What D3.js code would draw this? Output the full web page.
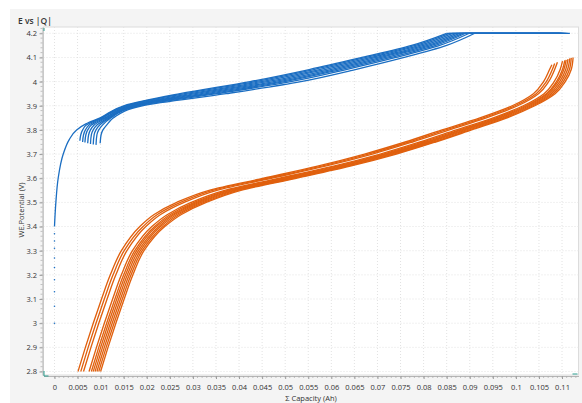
<!DOCTYPE html>
<html>
<head>
<meta charset="utf-8">
<script src="https://cdn.jsdelivr.net/npm/d3@7"></script>
<style>
  body { margin: 0; background: #fff; }
  .chart text { font-family: "Open Sans", "Noto Sans", sans-serif; fill: #333; }
</style>
</head>
<body>
<div class="chart"></div>
<script>
// tick values
const xTicks = [0, 0.005, 0.01, 0.015, 0.02, 0.025, 0.03, 0.035, 0.04, 0.045, 0.05, 0.055,
  0.06, 0.065, 0.07, 0.075, 0.08, 0.085, 0.09, 0.095, 0.1, 0.105, 0.11];
const yTicks = [2.8, 2.9, 3, 3.1, 3.2, 3.3, 3.4, 3.5, 3.6, 3.7, 3.8, 3.9, 4, 4.1, 4.2];

// first charge: sparse points at Q = 0, then the line
const firstDotsV = [3.0, 3.07, 3.13, 3.18, 3.23, 3.27, 3.31, 3.34, 3.37];
const firstChargeV = [3.4, 3.5, 3.6, 3.7, 3.76, 3.8, 3.825, 3.85, 3.9, 3.95, 4.0, 4.05, 4.1, 4.15, 4.2];
const firstChargeQ = [0, 0.0003, 0.0008, 0.0019, 0.0032, 0.0048, 0.0068, 0.0099, 0.0150, 0.0272, 0.0424, 0.0552, 0.0666, 0.0774, 0.0850];

// later charges (hooks), capacity at each level of chargeV
const chargeV = [3.78, 3.80, 3.82, 3.85, 3.9, 3.95, 4.0, 4.05, 4.1, 4.15, 4.2];
const chargeStartQ = [0.0055, 0.0061, 0.0066, 0.0072, 0.0078, 0.0084, 0.0090, 0.0099];
const chargeStartV = [3.755, 3.750, 3.748, 3.745, 3.742, 3.740, 3.738, 3.745];
const chargeQ = [
  [0.0057, 0.0061, 0.0069, 0.0102, 0.0154, 0.0282, 0.0435, 0.0562, 0.0675, 0.0782, 0.0856],
  [0.0063, 0.0067, 0.0075, 0.0105, 0.0159, 0.0294, 0.0448, 0.0574, 0.0686, 0.0791, 0.0863],
  [0.0068, 0.0072, 0.0080, 0.0109, 0.0164, 0.0306, 0.0461, 0.0586, 0.0697, 0.0800, 0.0871],
  [0.0074, 0.0078, 0.0086, 0.0112, 0.0168, 0.0318, 0.0475, 0.0598, 0.0708, 0.0809, 0.0878],
  [0.0080, 0.0084, 0.0092, 0.0116, 0.0173, 0.0329, 0.0487, 0.0609, 0.0718, 0.0817, 0.0885],
  [0.0086, 0.0090, 0.0098, 0.0119, 0.0177, 0.0340, 0.0499, 0.0620, 0.0729, 0.0826, 0.0891],
  [0.0092, 0.0096, 0.0104, 0.0122, 0.0182, 0.0352, 0.0512, 0.0632, 0.0740, 0.0835, 0.0899],
  [0.0101, 0.0105, 0.0113, 0.0128, 0.0190, 0.0372, 0.0534, 0.0652, 0.0758, 0.0850, 0.0911]
];
// end of the 4.2 V hold, first charge then the others
const chargeEndQ = [0.1117, 0.1112, 0.1108, 0.1105, 0.1102, 0.1100, 0.1098, 0.1096, 0.1094];

// discharges, capacity at each level of dischargeV
const dischargeV = [2.8, 2.9, 3.0, 3.1, 3.2, 3.3, 3.4, 3.45, 3.5, 3.55, 3.6, 3.65, 3.7, 3.75, 3.8, 3.85, 3.9, 3.95, 4.0, 4.05];
const dischargeQ = [
  [0.0051, 0.0067, 0.0084, 0.0102, 0.0121, 0.0145, 0.0185, 0.0216, 0.0265, 0.0335, 0.0453, 0.0570, 0.0672, 0.0760, 0.0840, 0.0922, 0.0992, 0.1038, 0.1060, 0.1073],
  [0.0057, 0.0073, 0.0090, 0.0108, 0.0127, 0.0151, 0.0192, 0.0223, 0.0273, 0.0343, 0.0462, 0.0579, 0.0680, 0.0768, 0.0848, 0.0929, 0.0998, 0.1044, 0.1066, 0.1079],
  [0.0063, 0.0079, 0.0096, 0.0114, 0.0133, 0.0157, 0.0198, 0.0230, 0.0281, 0.0352, 0.0470, 0.0587, 0.0689, 0.0776, 0.0856, 0.0936, 0.1004, 0.1049, 0.1071, 0.1084],
  [0.0075, 0.0091, 0.0108, 0.0126, 0.0145, 0.0169, 0.0211, 0.0245, 0.0296, 0.0369, 0.0488, 0.0605, 0.0706, 0.0792, 0.0871, 0.0951, 0.1016, 0.1061, 0.1083, 0.1096],
  [0.0080, 0.0096, 0.0113, 0.0131, 0.0150, 0.0174, 0.0217, 0.0251, 0.0303, 0.0376, 0.0495, 0.0612, 0.0713, 0.0799, 0.0878, 0.0957, 0.1021, 0.1066, 0.1088, 0.1101],
  [0.0084, 0.0100, 0.0117, 0.0135, 0.0154, 0.0178, 0.0221, 0.0256, 0.0308, 0.0381, 0.0501, 0.0618, 0.0718, 0.0805, 0.0883, 0.0962, 0.1025, 0.1069, 0.1091, 0.1104],
  [0.0088, 0.0104, 0.0121, 0.0139, 0.0158, 0.0182, 0.0226, 0.0260, 0.0313, 0.0387, 0.0507, 0.0624, 0.0724, 0.0810, 0.0888, 0.0966, 0.1029, 0.1073, 0.1095, 0.1108],
  [0.0092, 0.0108, 0.0125, 0.0143, 0.0162, 0.0186, 0.0230, 0.0265, 0.0318, 0.0392, 0.0513, 0.0630, 0.0729, 0.0815, 0.0893, 0.0971, 0.1033, 0.1077, 0.1099, 0.1112],
  [0.0096, 0.0112, 0.0129, 0.0147, 0.0166, 0.0190, 0.0235, 0.0270, 0.0324, 0.0398, 0.0518, 0.0635, 0.0735, 0.0821, 0.0899, 0.0976, 0.1037, 0.1081, 0.1103, 0.1116],
  [0.0100, 0.0116, 0.0133, 0.0151, 0.0170, 0.0194, 0.0239, 0.0275, 0.0329, 0.0404, 0.0524, 0.0641, 0.0741, 0.0826, 0.0904, 0.0981, 0.1041, 0.1085, 0.1107, 0.1120]
];
const dischargeEndQ = [0.1078, 0.1084, 0.1090, 0.1101, 0.1106, 0.1109, 0.1113, 0.1117, 0.1120, 0.1124];
const dischargeEndV = [4.070, 4.075, 4.080, 4.085, 4.088, 4.090, 4.093, 4.096, 4.098, 4.100];

const blue = "#1b6ec2";
const orange = "#e0600e";

function setupSvg() {
  const W = 582, H = 403;
  const margin = { top: 27, right: 3.5, bottom: 28, left: 43.5 };
  const width = W - margin.left - margin.right,
    height = H - margin.top - margin.bottom;

  const root = d3.select(".chart").append("svg")
    .attr("width", W)
    .attr("height", H);

  root.append("rect")
    .attr("x", 10).attr("y", 9)
    .attr("width", W - 10).attr("height", H - 9)
    .attr("fill", "#f4f4f4");

  root.append("text")
    .attr("x", 18).attr("y", 24)
    .style("font-size", "8.5px")
    .style("font-weight", 600)
    .text("E vs |Q|");

  const svg = root.append("g")
    .attr("transform", `translate(${margin.left},${margin.top})`);

  svg.append("rect")
    .attr("width", width).attr("height", height)
    .attr("fill", "#fff")
    .attr("stroke", "#dcdcdc")
    .attr("stroke-width", 1);

  return { svg, margin, width, height };
}

function setupScales(width, height) {
  const x = d3.scaleLinear().domain([-0.00238, 0.11357]).range([0, width]);
  const y = d3.scaleLinear().domain([2.7855, 4.226]).range([height, 0]);
  return { x, y };
}

function drawAxes(svg, x, y, width, height, margin) {
  // dotted grid
  svg.append("g").selectAll("line").data(xTicks).join("line")
    .attr("x1", d => x(d)).attr("x2", d => x(d))
    .attr("y1", 0).attr("y2", height)
    .attr("stroke", "#e2e2e2").attr("stroke-dasharray", "1,2");
  svg.append("g").selectAll("line").data(yTicks).join("line")
    .attr("y1", d => y(d)).attr("y2", d => y(d))
    .attr("x1", 0).attr("x2", width)
    .attr("stroke", "#e2e2e2").attr("stroke-dasharray", "1,2");

  const xAxis = svg.append("g")
    .attr("transform", `translate(0,${height + 1})`)
    .call(d3.axisBottom(x).tickValues(xTicks).tickFormat(d3.format("~g"))
      .tickSizeInner(3).tickSizeOuter(0).tickPadding(6));
  const yAxis = svg.append("g")
    .attr("transform", "translate(-1,0)")
    .call(d3.axisLeft(y).tickValues(yTicks).tickFormat(d3.format("~g"))
      .tickSizeInner(3).tickSizeOuter(0).tickPadding(2.5));

  [xAxis, yAxis].forEach(a => {
    a.select(".domain").attr("stroke", "#b5b5b5");
    a.selectAll(".tick line").attr("stroke", "#9a9a9a");
    a.selectAll(".tick text").style("font-size", "7.5px").attr("fill", "#333")
      .style("font-family", '"Open Sans", "Noto Sans", sans-serif');
  });

  // minor ticks
  const xMinor = d3.range(0, 0.1135, 0.001);
  svg.append("g").selectAll("line").data(xMinor).join("line")
    .attr("x1", d => x(d)).attr("x2", d => x(d))
    .attr("y1", height + 1).attr("y2", height + 3)
    .attr("stroke", "#aaa").attr("stroke-width", 0.7);
  const yMinor = d3.range(2.8, 4.221, 0.02);
  svg.append("g").selectAll("line").data(yMinor).join("line")
    .attr("y1", d => y(d)).attr("y2", d => y(d))
    .attr("x1", -1).attr("x2", -3)
    .attr("stroke", "#aaa").attr("stroke-width", 0.7);

  svg.append("text")
    .attr("text-anchor", "middle")
    .attr("x", width / 2)
    .attr("y", height + margin.bottom - 2)
    .style("font-size", "7.5px")
    .text("Σ Capacity (Ah)");

  svg.append("text")
    .attr("text-anchor", "middle")
    .attr("transform", "rotate(-90)")
    .attr("x", -(height / 2) - 9)
    .attr("y", -margin.left + 24)
    .style("font-size", "7.5px")
    .text("WE.Potential (V)");

  // small cursor marks at the plot corners
  const teal = "#2a9d8f";
  svg.append("path").attr("d", `M0.5,1 V4`).attr("stroke", teal).attr("fill", "none");
  svg.append("path").attr("d", `M0.5,${height - 4} V${height + 1} H5`).attr("stroke", teal).attr("fill", "none");
  svg.append("path").attr("d", `M${width - 6},${height - 1} H${width - 1}`).attr("stroke", teal).attr("fill", "none");
}

function createLines(svg, x, y) {
  const line = d3.line()
    .x(d => x(d[0]))
    .y(d => y(d[1]))
    .curve(d3.curveMonotoneY);
  const flat = d3.line().x(d => x(d[0])).y(d => y(d[1]));

  const discharge = dischargeQ.map((qs, i) =>
    qs.map((q, j) => [q, dischargeV[j]]).concat([[dischargeEndQ[i], dischargeEndV[i]]]));
  svg.append("g").selectAll("path").data(discharge).join("path")
    .attr("fill", "none")
    .attr("stroke", orange)
    .attr("stroke-width", 1.35)
    .attr("d", line);

  const charges = [firstChargeQ.map((q, j) => [q, firstChargeV[j]])].concat(
    chargeQ.map((qs, i) => [[chargeStartQ[i], chargeStartV[i]]].concat(qs.map((q, j) => [q, chargeV[j]]))));

  const g = svg.append("g");
  g.selectAll("path.hold").data(charges).join("path")
    .attr("class", "hold")
    .attr("fill", "none")
    .attr("stroke", blue)
    .attr("stroke-width", 1.2)
    .attr("d", (c, i) => flat([c[c.length - 1], [chargeEndQ[i], 4.2]]));
  g.selectAll("path.charge").data(charges).join("path")
    .attr("class", "charge")
    .attr("fill", "none")
    .attr("stroke", blue)
    .attr("stroke-width", 1.3)
    .attr("d", line);

  g.selectAll("circle").data(firstDotsV).join("circle")
    .attr("cx", x(0))
    .attr("cy", d => y(d))
    .attr("r", 0.8)
    .attr("fill", blue);
}

function createChart() {
  const { svg, margin, width, height } = setupSvg();
  const { x, y } = setupScales(width, height);
  drawAxes(svg, x, y, width, height, margin);
  createLines(svg, x, y);
}

createChart();
</script>
</body>
</html>
